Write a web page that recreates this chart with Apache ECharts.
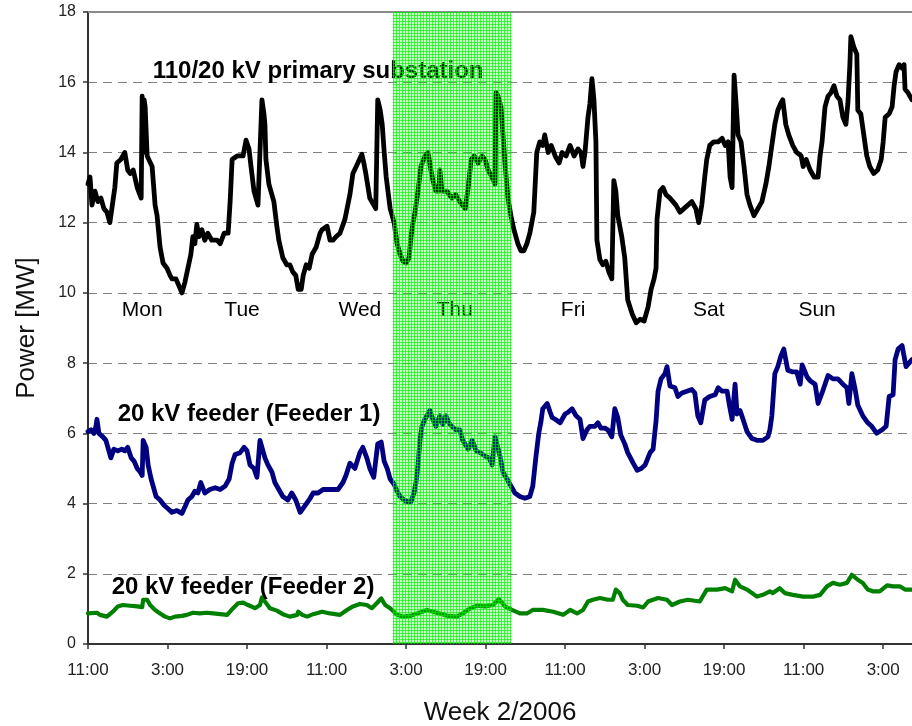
<!DOCTYPE html>
<html>
<head>
<meta charset="utf-8">
<script src="https://cdn.jsdelivr.net/npm/echarts@6/dist/echarts.min.js"></script>
<style>
html,body{margin:0;padding:0;background:#fff;}
#chart{width:912px;height:726px;}
</style>
</head>
<body>
<div id="chart"></div>
<script>
// Hours since Monday 11:00 (week 2/2006), power in MW
const xTickLabels = ['11:00','3:00','19:00','11:00','3:00','19:00','11:00','3:00','19:00','11:00','3:00','19:00'];
const yTicks = [0,2,4,6,8,10,12,14,16,18];

const substation = [
[0,13.1],[0.4,13.3],[0.8,12.5],[1.4,12.9],[2.0,12.6],[2.6,12.7],[3.2,12.4],[3.8,12.3],[4.4,12.0],[5.0,12.6],
[5.4,13.0],[5.8,13.7],[6.6,13.8],[7.4,14.0],[8.0,13.5],[8.5,13.4],[9.1,13.5],[9.9,13.0],[10.7,12.7],[10.9,15.6],
[11.1,14.0],[11.3,15.5],[11.5,15.3],[11.9,13.9],[12.9,13.6],[13.5,12.5],[13.9,12.2],[14.5,11.3],[15.1,10.85],[15.9,10.7],
[16.5,10.5],[16.9,10.4],[17.7,10.4],[18.3,10.2],[18.9,10.0],[19.5,10.3],[20.1,10.7],[20.7,11.1],[21.1,11.6],[21.5,11.4],
[21.9,11.95],[22.3,11.6],[22.9,11.8],[23.5,11.5],[24.1,11.7],[24.9,11.5],[26.0,11.5],[26.6,11.4],[27.4,11.7],[28.2,11.7],
[28.6,12.6],[29.0,13.8],[30.0,13.9],[31.2,13.9],[31.8,14.35],[32.4,14.1],[32.8,13.6],[33.4,12.9],[34.2,12.5],[34.6,14.0],
[35.0,15.5],[35.4,15.1],[35.6,14.8],[35.8,13.8],[36.4,13.1],[37.4,12.6],[38.0,11.9],[38.4,11.5],[39.2,11.0],[40.0,10.8],
[40.6,10.8],[41.2,10.6],[41.8,10.5],[42.3,10.1],[42.9,10.1],[43.3,10.5],[43.9,10.8],[44.5,10.7],[45.1,11.1],[45.9,11.3],
[46.7,11.7],[47.1,11.8],[48.1,11.9],[48.7,11.5],[49.3,11.5],[49.9,11.6],[50.7,11.7],[51.7,12.1],[52.7,12.8],[53.3,13.4],
[54.3,13.7],[55.1,13.95],[55.5,13.7],[55.9,13.4],[56.7,12.7],[57.5,12.5],[57.9,12.4],[58.3,15.5],[58.8,15.2],[59.2,14.8],
[59.6,14.0],[60.0,13.3],[60.8,12.4],[61.6,12.0],[62.2,11.4],[62.8,11.1],[63.4,10.9],[64.0,10.85],[64.6,11.0],[65.0,11.6],
[65.4,12.0],[65.8,12.3],[66.4,12.9],[67.0,13.6],[67.8,13.9],[68.4,14.0],[69.0,13.5],[69.4,13.2],[70.0,12.9],[70.6,12.9],
[70.8,13.5],[71.2,12.9],[72.2,12.9],[73.2,12.7],[74.0,12.8],[74.8,12.6],[75.9,12.4],[76.5,13.0],[77.1,13.8],[77.7,13.9],
[78.5,13.7],[79.3,13.9],[79.9,13.8],[80.5,13.5],[81.3,13.3],[81.9,13.1],[82.1,15.7],[82.5,15.6],[83.1,15.3],[83.5,14.5],
[83.9,13.7],[84.5,12.7],[85.1,12.2],[85.7,11.8],[86.5,11.4],[87.1,11.2],[87.7,11.2],[88.3,11.4],[88.9,11.7],[89.7,12.3],
[90.3,14.0],[90.9,14.3],[91.5,14.2],[91.9,14.5],[92.6,14.0],[93.2,14.2],[94.0,13.9],[94.8,13.7],[95.4,14.0],[96.2,13.9],
[97.0,14.2],[97.8,13.9],[98.6,14.1],[99.2,14.0],[99.6,13.6],[100.0,14.0],[100.6,15.0],[101.0,15.4],[101.4,16.1],[101.8,15.5],
[102.2,14.3],[102.4,11.5],[103.0,10.95],[103.6,10.8],[104.2,10.9],[104.8,10.6],[105.4,10.4],[105.8,13.2],[106.2,12.9],[106.6,12.2],
[107.4,11.6],[108.0,11.0],[108.6,9.8],[109.5,9.4],[110.3,9.15],[111.1,9.25],[111.9,9.2],[112.7,9.6],[113.3,10.1],[113.9,10.4],
[114.3,10.7],[114.5,12.1],[115.1,12.9],[115.7,13.0],[116.3,12.8],[117.1,12.7],[117.7,12.6],[118.3,12.5],[119.1,12.3],[119.9,12.4],
[120.7,12.5],[121.5,12.6],[122.3,12.4],[122.9,12.0],[123.5,12.5],[124.1,13.3],[124.5,13.8],[125.1,14.2],[125.9,14.3],[126.8,14.3],
[127.6,14.4],[128.2,14.2],[128.8,14.3],[129.2,13.3],[129.6,13.0],[130.0,16.2],[130.4,15.4],[130.8,14.5],[131.4,14.3],[132.0,13.6],
[132.6,12.8],[133.2,12.5],[134.0,12.2],[134.8,12.4],[135.6,12.6],[136.4,13.1],[137.0,13.6],[137.6,14.2],[138.2,14.8],[138.8,15.2],
[139.4,15.4],[139.8,15.5],[140.4,14.8],[141.0,14.5],[141.8,14.2],[142.6,14.0],[143.5,13.9],[143.9,13.6],[144.5,13.8],[145.3,13.5],
[146.1,13.3],[146.9,13.3],[147.3,13.9],[147.7,14.3],[148.3,15.3],[148.9,15.6],[149.5,15.7],[150.1,15.9],[150.7,15.6],[151.3,15.5],
[151.9,15.0],[152.5,14.8],[152.9,15.4],[153.3,16.5],[153.5,17.3],[154.1,17.0],[154.7,16.8],[154.9,15.2],[155.5,15.1],[156.1,14.5],
[156.7,13.9],[157.3,13.6],[158.1,13.4],[158.9,13.5],[159.6,13.8],[160.0,14.3],[160.4,15.0],[161.2,15.1],[161.8,15.3],[162.2,15.9],
[162.6,16.3],[163.2,16.5],[163.8,16.4],[164.2,16.5],[164.4,15.8],[165.0,15.7],[165.8,15.5]
];

const feeder1 = [
[0,6.05],[0.6,6.1],[1.2,6.0],[1.6,6.2],[1.8,6.4],[2.2,6.0],[3.0,5.9],[3.6,5.8],[4.0,5.6],[4.6,5.3],
[5.2,5.55],[6.0,5.5],[6.8,5.55],[7.4,5.5],[8.0,5.6],[8.7,5.3],[9.3,5.2],[9.9,5.0],[10.5,4.9],[10.9,4.8],
[11.1,5.8],[11.7,5.6],[12.1,5.1],[12.7,4.7],[13.1,4.5],[13.7,4.2],[14.5,4.1],[15.3,3.95],[16.1,3.85],[16.9,3.75],
[17.9,3.8],[18.9,3.72],[19.5,3.9],[20.1,4.1],[20.9,4.2],[21.5,4.35],[22.1,4.3],[22.7,4.6],[23.5,4.3],[24.5,4.4],
[25.6,4.45],[26.6,4.4],[27.6,4.5],[28.4,4.7],[29.0,5.15],[29.6,5.4],[30.6,5.45],[31.4,5.6],[32.0,5.5],[32.6,5.1],
[33.4,5.0],[34.0,4.75],[34.6,5.8],[35.0,5.8],[35.6,5.3],[36.2,5.1],[37.0,4.9],[37.6,4.6],[38.2,4.45],[39.2,4.2],
[40.2,4.1],[41.0,4.3],[41.8,4.1],[42.7,3.75],[43.7,3.95],[44.7,4.15],[45.3,4.3],[46.3,4.3],[47.3,4.4],[48.7,4.4],
[50.3,4.4],[51.3,4.6],[51.9,4.8],[52.7,5.15],[53.7,5.0],[54.7,5.45],[55.3,5.6],[56.1,5.3],[56.7,5.0],[57.5,4.75],
[58.3,5.7],[59.0,5.75],[59.6,5.2],[60.2,5.0],[60.8,4.7],[61.6,4.55],[62.2,4.35],[62.8,4.2],[63.6,4.1],[64.4,4.05],
[65.0,4.05],[65.6,4.3],[66.0,4.6],[66.4,5.1],[66.8,5.8],[67.2,6.2],[67.8,6.4],[68.8,6.65],[69.4,6.4],[70.0,6.2],
[70.8,6.5],[71.4,6.25],[72.0,6.5],[72.6,6.3],[73.2,6.2],[74.0,6.1],[74.8,6.1],[75.4,5.8],[76.5,5.55],[77.3,5.8],
[78.1,5.5],[78.9,5.45],[79.9,5.35],[80.7,5.3],[81.3,5.1],[81.9,5.9],[82.3,5.95],[82.9,5.35],[83.5,4.9],[84.3,4.7],
[84.9,4.55],[85.9,4.3],[86.9,4.2],[87.9,4.15],[88.9,4.2],[89.5,4.5],[90.1,5.3],[90.7,6.0],[91.1,6.3],[91.5,6.7],
[92.4,6.85],[93.0,6.6],[93.4,6.45],[94.0,6.4],[95.0,6.3],[96.0,6.55],[96.6,6.6],[97.4,6.7],[98.2,6.5],[99.0,6.4],
[99.6,5.85],[100.4,6.1],[101.0,6.2],[102.0,6.2],[102.6,6.3],[103.2,6.15],[104.0,6.15],[104.6,6.1],[105.4,5.9],[106.0,6.7],
[106.6,6.45],[107.2,5.95],[108.0,5.7],[108.6,5.45],[109.7,5.15],[110.5,4.95],[111.3,5.0],[112.1,5.1],[113.1,5.45],[113.7,5.55],
[114.3,6.35],[114.7,7.2],[115.3,7.55],[116.1,7.7],[116.5,7.9],[117.1,7.35],[118.1,7.3],[118.7,7.05],[119.5,7.15],[120.5,7.2],
[121.5,7.25],[122.1,7.15],[122.7,6.5],[123.3,6.3],[124.1,6.95],[125.1,7.05],[126.2,7.1],[126.8,7.3],[127.6,7.2],[128.6,7.2],
[129.0,6.85],[129.6,6.4],[130.2,7.4],[130.6,6.55],[131.2,6.65],[131.8,6.4],[132.6,6.05],[133.6,5.85],[134.6,5.8],[135.8,5.8],
[136.8,5.9],[137.2,6.1],[137.6,6.5],[138.2,7.7],[138.8,7.9],[139.4,8.2],[140.0,8.4],[140.8,7.8],[141.8,7.75],[142.6,7.75],
[143.3,7.4],[143.7,7.95],[144.7,7.6],[145.3,7.5],[146.3,7.4],[146.9,6.85],[147.7,7.15],[148.9,7.65],[149.9,7.55],[150.9,7.55],
[151.9,7.4],[152.7,7.3],[153.1,6.85],[153.7,7.7],[154.3,7.3],[154.9,6.8],[155.9,6.5],[156.9,6.3],[157.7,6.2],[158.7,6.0],
[159.8,6.1],[160.6,6.2],[161.2,7.05],[162.0,7.1],[162.4,8.1],[163.0,8.4],[163.8,8.5],[164.2,8.45],[164.6,7.9],[165.8,8.1]
];

const feeder2 = [
[0,0.87],[1.8,0.89],[2.4,0.83],[3.8,0.78],[5.0,0.92],[6.0,1.07],[7.0,1.11],[8.5,1.09],[9.9,1.07],[10.9,1.05],
[11.1,1.26],[11.9,1.26],[12.5,1.11],[13.5,0.97],[14.5,0.87],[15.5,0.78],[16.5,0.73],[17.5,0.78],[18.9,0.8],[19.9,0.83],
[21.1,0.89],[22.5,0.87],[23.9,0.89],[25.2,0.87],[26.6,0.85],[28.0,0.83],[29.2,1.02],[30.2,1.16],[31.2,1.18],[32.2,1.11],
[33.6,1.02],[34.6,1.11],[35.0,1.33],[35.6,1.21],[36.6,1.02],[38.0,0.95],[39.2,0.85],[40.6,0.78],[42.1,0.83],[42.3,0.92],
[43.1,0.83],[44.1,0.78],[45.3,0.85],[47.1,0.92],[48.7,0.87],[50.7,0.83],[52.1,0.97],[53.3,1.07],[54.7,1.14],[56.1,1.11],
[57.1,1.02],[58.1,1.16],[59.0,1.3],[59.8,1.11],[60.8,1.02],[62.2,0.83],[63.4,0.78],[64.8,0.8],[66.2,0.87],[68.2,0.97],
[69.4,0.92],[70.8,0.87],[72.4,0.8],[74.2,0.78],[75.4,0.87],[76.9,1.02],[78.3,1.09],[79.9,1.07],[81.5,1.11],[82.7,1.28],
[83.9,1.07],[85.3,0.97],[86.9,0.87],[88.3,0.87],[89.5,0.97],[91.5,0.97],[93.6,0.92],[95.6,0.83],[97.0,0.97],[98.4,0.87],
[99.6,0.97],[100.6,1.21],[101.6,1.26],[103.0,1.31],[104.6,1.26],[105.6,1.26],[106.2,1.55],[107.0,1.45],[107.6,1.26],[108.6,1.11],
[110.5,1.09],[111.7,1.04],[112.7,1.21],[114.7,1.31],[116.5,1.26],[117.5,1.11],[119.1,1.21],[120.7,1.26],[123.1,1.21],[124.5,1.55],
[126.6,1.55],[128.2,1.59],[129.6,1.5],[130.2,1.83],[131.2,1.64],[132.6,1.55],[134.6,1.35],[135.8,1.4],[137.2,1.5],[137.8,1.45],
[139.2,1.59],[140.2,1.45],[141.8,1.4],[143.9,1.35],[145.9,1.35],[147.3,1.4],[148.7,1.64],[149.9,1.74],[151.3,1.69],[152.7,1.74],
[153.7,1.97],[154.9,1.83],[155.9,1.74],[156.9,1.55],[157.9,1.5],[159.3,1.5],[160.8,1.67],[162.0,1.64],[163.4,1.64],[164.4,1.55],
[165.8,1.55]
];

// Day labels: [hour, MW, text]
const dayLabels = [[10.9,9.5,'Mon'],[31.0,9.5,'Tue'],[54.7,9.5,'Wed'],[73.8,9.5,'Thu'],[97.6,9.5,'Fri'],[124.9,9.5,'Sat'],[146.7,9.5,'Sun']];
// Series annotations: [hour, MW, text]
const seriesLabels = [[46.3,16.3,'110/20 kV primary substation'],[32.4,6.55,'20 kV feeder (Feeder 1)'],[31.2,1.6,'20 kV feeder (Feeder 2)']];
// Highlighted day (Thursday): [start hour, end hour]
const highlight = [61.3, 85.2];

// visible time window (hours)
const xMin = 0, xMax = 165.8, xStep = 16;

const FONT = '"Liberation Sans", Arial, sans-serif';

// band pattern (fine green grid)
const pc = document.createElement('canvas');
pc.width = 3; pc.height = 3;
const pctx = pc.getContext('2d');
pctx.fillStyle = 'rgba(0,255,0,0.22)';
pctx.fillRect(0,0,3,3);
pctx.fillStyle = 'rgba(0,235,0,0.62)';
pctx.fillRect(0,0,3,1);
pctx.fillRect(0,0,1,3);

const chart = echarts.init(document.getElementById('chart'), null, {renderer:'canvas'});

const option = {
  animation: false,
  backgroundColor: '#ffffff',
  grid: {left: 88, top: 12, right: 0, height: 632, containLabel: false, outerBoundsMode: 'none'},
  xAxis: [{
    type: 'value', min: xMin, max: xMax, interval: xStep,
    name: 'Week 2/2006', nameLocation: 'middle', nameGap: 56,
    nameTextStyle: {fontFamily: FONT, fontSize: 26, color: '#111'},
    axisLine: {show: true, onZero: false, lineStyle: {color: '#333', width: 2}},
    axisTick: {show: true, inside: false, length: 5, lineStyle: {color: '#333', width: 1.5}},
    axisLabel: {show: true, margin: 18, fontFamily: FONT, fontSize: 17, color: '#222', showMaxLabel: false,
      formatter: function (v) { const i = Math.round(v / xStep); return (Math.abs(v - i * xStep) < 1e-6) ? (xTickLabels[i] || '') : ''; }},
    splitLine: {show: false}
  }, {
    type: 'value', min: xMin, max: xMax, position: 'top',
    axisLine: {show: true, onZero: false, lineStyle: {color: '#8a8a8a', width: 2}},
    axisTick: {show: false}, axisLabel: {show: false}, splitLine: {show: false}
  }],
  yAxis: {
    type: 'value', min: yTicks[0], max: yTicks[yTicks.length-1], interval: 2,
    name: 'Power [MW]', nameLocation: 'middle', nameGap: 48, nameRotate: 90,
    nameTextStyle: {fontFamily: FONT, fontSize: 26, color: '#111'},
    axisLine: {show: true, onZero: false, lineStyle: {color: '#333', width: 2}},
    axisTick: {show: true, inside: false, length: 5, lineStyle: {color: '#333', width: 1.5}},
    axisLabel: {margin: 12, fontFamily: FONT, fontSize: 16, color: '#222'},
    splitLine: {show: true, lineStyle: {color: '#808080', width: 1, type: [9, 6]}}
  },
  series: [
    {type: 'line', name: 'substation', data: substation, showSymbol: false, symbol: 'none',
     lineStyle: {color: '#000000', width: 4.8, join: 'round', cap: 'round'}, itemStyle: {color: '#000'}, z: 3},
    {type: 'line', name: 'feeder1', data: feeder1, showSymbol: false, symbol: 'none',
     lineStyle: {color: '#000080', width: 4.8, join: 'round', cap: 'round'}, itemStyle: {color: '#000080'}, z: 3},
    {type: 'line', name: 'feeder2', data: feeder2, showSymbol: false, symbol: 'none',
     lineStyle: {color: '#008000', width: 4.2, join: 'round', cap: 'round'}, itemStyle: {color: '#008000'}, z: 3,
     markArea: {silent: true, z: 10, itemStyle: {color: {image: pc, repeat: 'repeat'}, borderWidth: 0},
       label: {show: false},
       data: [[{xAxis: highlight[0], yAxis: yTicks[0]}, {xAxis: highlight[1], yAxis: yTicks[yTicks.length-1]}]]}},
    {type: 'scatter', data: dayLabels.map(d => ({value: [d[0], d[1]], name: d[2]})),
     symbolSize: 1, itemStyle: {color: 'rgba(0,0,0,0)', opacity: 1}, silent: true, z: 4,
     label: {show: true, position: 'inside', formatter: p => p.name, fontFamily: FONT, fontSize: 21, color: '#000', opacity: 1, textBorderWidth: 0}},
    {type: 'scatter', data: seriesLabels.map(d => ({value: [d[0], d[1]], name: d[2]})),
     symbolSize: 1, itemStyle: {color: 'rgba(0,0,0,0)', opacity: 1}, silent: true, z: 4,
     label: {show: true, position: 'inside', formatter: p => p.name, fontFamily: FONT, fontSize: 24, fontWeight: 'bold', color: '#000', opacity: 1, textBorderWidth: 0}}
  ]
};
chart.setOption(option);
</script>
</body>
</html>
